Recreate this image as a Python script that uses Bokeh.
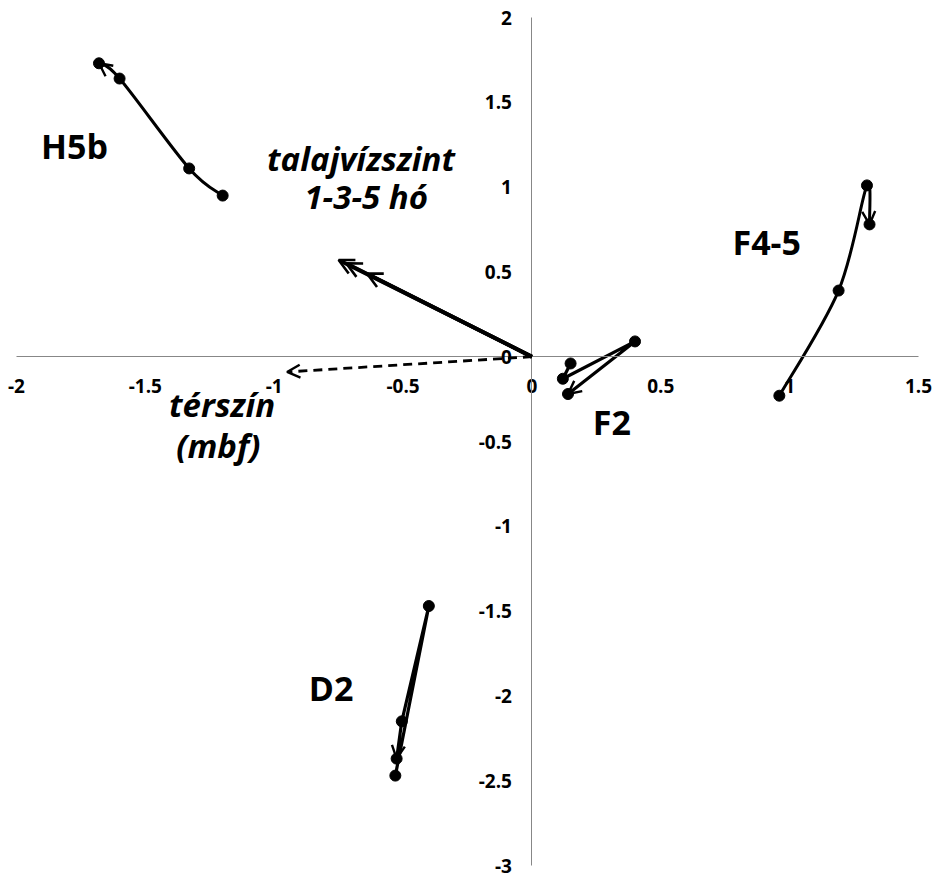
import numpy as np
from bokeh.plotting import figure
from bokeh.models import FixedTicker, Arrow, OpenHead, Range1d
from bokeh.core.properties import value
from bokeh.embed import file_html
from bokeh.resources import INLINE

# ---- data ----
x_ticks = [-2.0, -1.5, -1.0, -0.5, 0.0, 0.5, 1.0, 1.5]
x_tick_labels = ["-2", "-1.5", "-1", "-0.5", "0", "0.5", "1", "1.5"]
y_ticks = [-3.0, -2.5, -2.0, -1.5, -1.0, -0.5, 0.0, 0.5, 1.0, 1.5, 2.0]
y_tick_labels = ["-3", "-2.5", "-2", "-1.5", "-1", "-0.5", "0", "0.5", "1", "1.5", "2"]

h5b_x = [-1.20, -1.33, -1.60, -1.68]
h5b_y = [0.95, 1.11, 1.64, 1.73]
f45_x = [0.96, 1.19, 1.30, 1.31]
f45_y = [-0.23, 0.39, 1.01, 0.78]
f2_x = [0.15, 0.12, 0.40, 0.14]
f2_y = [-0.04, -0.13, 0.09, -0.22]
d2_x = [-0.53, -0.40, -0.505, -0.525]
d2_y = [-2.47, -1.47, -2.15, -2.37]

# vectors from origin
talaj_x = [-0.75, -0.72, -0.64]
talaj_y = [0.57, 0.55, 0.49]
terszin_x = [-0.95]
terszin_y = [-0.09]

FONT = value("Open Sans")

W, H = 940, 878
# frame fills the canvas; ranges padded so edge tick labels stay visible
xpx = (918 - 16) / 3.5
ypx = (865 - 17) / 5.0
x0r = -2 - 16 / xpx
x1r = x0r + W / xpx
y1r = 2 + 17 / ypx
y0r = y1r - H / ypx

p = figure(width=W, height=H, title=None,
           x_range=Range1d(x0r, x1r), y_range=Range1d(y0r, y1r),
           output_backend="svg", toolbar_location=None,
           min_border_left=0, min_border_right=0,
           min_border_top=0, min_border_bottom=0)
p.outline_line_color = None
p.grid.visible = False
p.background_fill_color = "white"

for ax, ticks, labels, standoff, bounds in (
        (p.xaxis, x_ticks, x_tick_labels, 22, (-2, 1.5)),
        (p.yaxis, y_ticks, y_tick_labels, 20, (-3, 2))):
    ax.fixed_location = 0
    ax.bounds = bounds
    ax.ticker = FixedTicker(ticks=ticks)
    ax.major_label_overrides = dict(zip(ticks, labels))
    ax.axis_line_color = "#878787"
    ax.axis_line_width = 1
    ax.major_tick_line_color = None
    ax.minor_tick_line_color = None
    ax.major_tick_in = 0
    ax.major_tick_out = 0
    ax.major_label_standoff = standoff
    ax.major_label_text_font = "Open Sans"
    ax.major_label_text_font_style = "bold"
    ax.major_label_text_font_size = "19px"
    ax.major_label_text_color = "black"


def smooth(xs, ys):
    """Catmull-Rom style smoothed segments (like a smoothed scatter line)."""
    P = np.column_stack([xs, ys]).astype(float)
    n = len(P)
    x0, y0, x1, y1, cx0, cy0, cx1, cy1 = ([] for _ in range(8))
    for i in range(n - 1):
        pm = P[i - 1] if i > 0 else P[i]
        pp = P[i + 2] if i + 2 < n else P[i + 1]
        c1 = P[i] + (P[i + 1] - pm) / 6.0
        c2 = P[i + 1] - (pp - P[i]) / 6.0
        x0.append(P[i][0]); y0.append(P[i][1])
        x1.append(P[i + 1][0]); y1.append(P[i + 1][1])
        cx0.append(c1[0]); cy0.append(c1[1])
        cx1.append(c2[0]); cy1.append(c2[1])
    return dict(x0=x0, y0=y0, x1=x1, y1=y1, cx0=cx0, cy0=cy0, cx1=cx1, cy1=cy1)


def end_arrow(xs, ys):
    p.add_layout(Arrow(x_start=xs[-2], y_start=ys[-2], x_end=xs[-1], y_end=ys[-1],
                       line_alpha=0,
                       end=OpenHead(size=13, line_width=2.4, line_color="black")))


# smoothed series
for xs, ys in ((h5b_x, h5b_y), (f45_x, f45_y)):
    p.bezier(line_color="black", line_width=3, **smooth(xs, ys))
    p.scatter(xs, ys, size=11, color="black")
    end_arrow(xs, ys)

# straight series
for xs, ys in ((f2_x, f2_y), (d2_x, d2_y)):
    p.line(xs, ys, line_color="black", line_width=3.2)
    p.scatter(xs, ys, size=11, color="black")
    end_arrow(xs, ys)

# vectors
for tx, ty in zip(talaj_x, talaj_y):
    p.add_layout(Arrow(x_start=0, y_start=0, x_end=tx, y_end=ty,
                       line_color="black", line_width=3.8,
                       end=OpenHead(size=15, line_width=2.6, line_color="black")))
for tx, ty in zip(terszin_x, terszin_y):
    p.add_layout(Arrow(x_start=0, y_start=0, x_end=tx, y_end=ty,
                       line_color="black", line_width=2.8, line_dash="9 6",
                       end=OpenHead(size=13, line_width=2.4, line_color="black")))

# labels
bold_labels = [("H5b", -1.775, 1.24), ("F4-5", 0.911, 0.678),
               ("F2", 0.31, -0.386), ("D2", -0.779, -1.953)]
for t, x, y in bold_labels:
    p.text(x=[x], y=[y], text=[t], text_font=FONT, text_font_style="bold",
           text_font_size="34px", text_align="center", text_baseline="alphabetic",
           text_color="black")

italic_labels = [("talajvízszint", -0.663, 1.169), ("1-3-5 hó", -0.643, 0.947),
                 ("térszín", -1.202, -0.281), ("(mbf)", -1.217, -0.521)]
for t, x, y in italic_labels:
    p.text(x=[x], y=[y], text=[t], text_font=FONT, text_font_style="bold italic",
           text_font_size="33px", text_align="center", text_baseline="alphabetic",
           text_color="black")

open("out.html", "w").write(file_html(p, INLINE))
